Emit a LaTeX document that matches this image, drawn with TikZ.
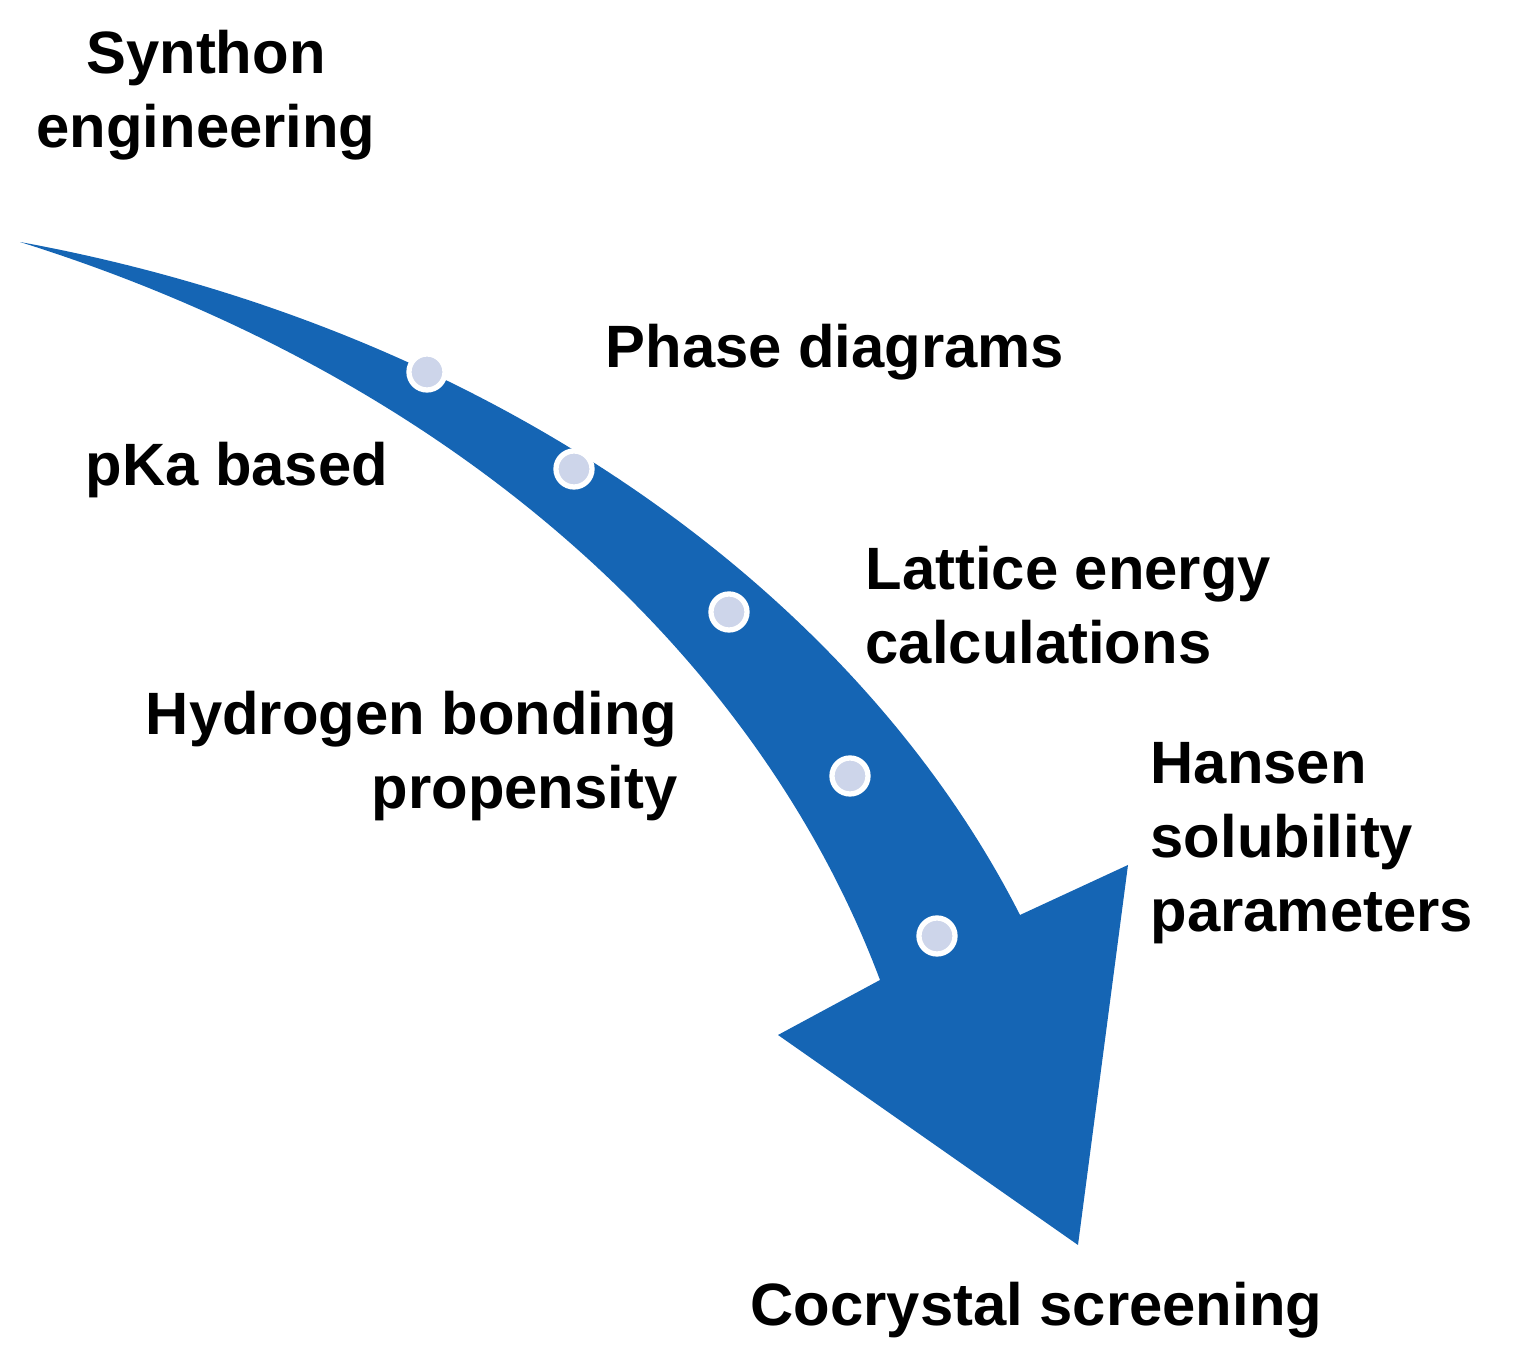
\documentclass[tikz,border=0pt]{standalone}
\usepackage{fontspec}
\setmainfont{Liberation Sans}
\definecolor{arrowblue}{HTML}{1565B4}
\definecolor{dotfill}{HTML}{CDD5EA}
\begin{document}
\begin{tikzpicture}[x=0.01cm,y=-0.01cm,
  lbl/.style={font=\bfseries\fontsize{17}{21}\selectfont,inner sep=0pt,align=left},
  dot/.style={circle,fill=dotfill,draw=white,line width=1.5pt,minimum size=0.36cm,inner sep=0pt}]
\useasboundingbox (0,0) rectangle (1532,1368);
\fill[arrowblue] (20,242) .. controls (500,330) and (860,600) .. (1020,915)
  -- (1128,865) -- (1078,1245) -- (778,1035) -- (880,980)
  .. controls (760,660) and (460,380) .. (20,242) -- cycle;
\node[dot] (d1) at (427,372) {};
\node[dot] (d2) at (574,469) {};
\node[dot] (d3) at (729,612) {};
\node[dot] (d4) at (850,776) {};
\node[dot] (d5) at (937,936) {};
\node[lbl,align=center] (syn) at (206,95) {Synthon\\engineering};
\node[lbl,anchor=west] (phase) at (605,352) {Phase diagrams};
\node[lbl,anchor=west] (pka) at (85,470) {pKa based};
\node[lbl,anchor=west] (latt) at (865,605) {Lattice energy\\calculations};
\node[lbl,anchor=east,align=right] (hyd) at (678,756) {Hydrogen bonding\\propensity};
\node[lbl,anchor=west] (han) at (1150,843) {Hansen\\solubility\\parameters};
\node[lbl,anchor=west] (coc) at (750,1310) {Cocrystal screening};
\end{tikzpicture}
\end{document}
